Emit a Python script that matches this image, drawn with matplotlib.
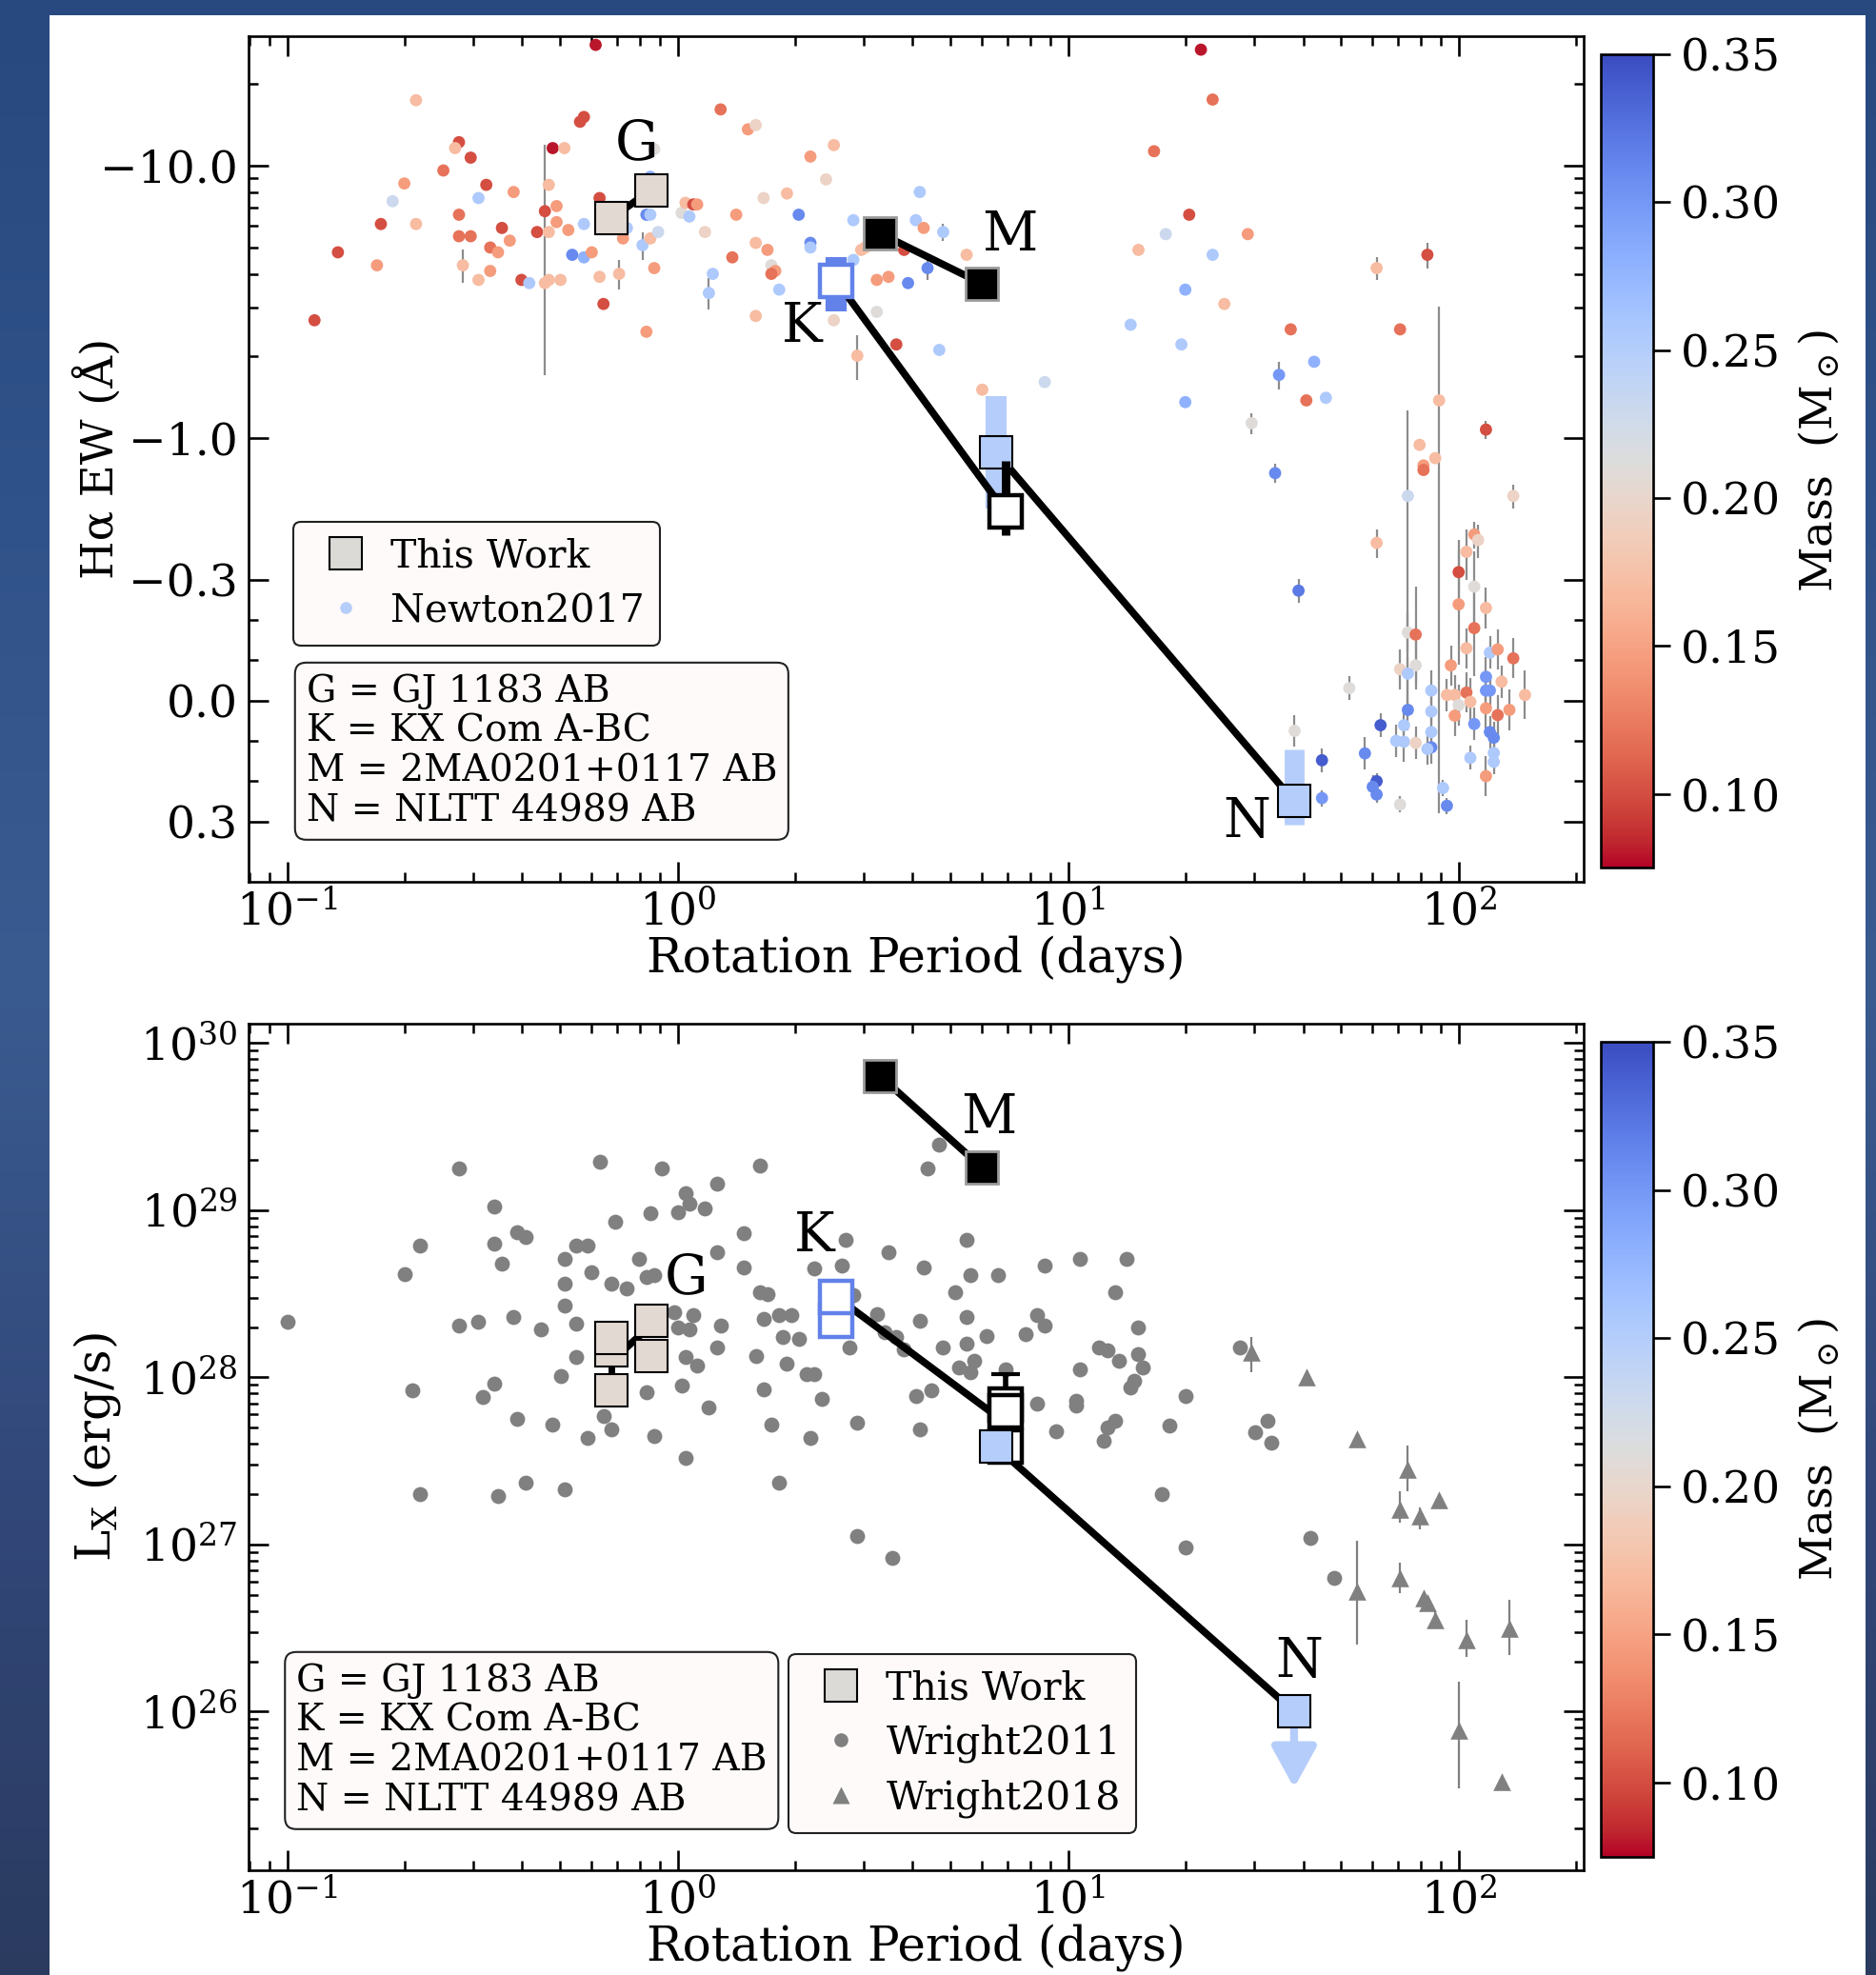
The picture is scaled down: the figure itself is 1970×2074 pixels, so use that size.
"""
Halpha EW and X-ray luminosity vs rotation period, coloured by mass
"""
import numpy as np
import matplotlib
matplotlib.use("Agg")
import matplotlib.pyplot as plt
from matplotlib.colors import Normalize, LinearSegmentedColormap
from matplotlib.lines import Line2D
from matplotlib.patches import Rectangle
from matplotlib.ticker import FixedLocator, FuncFormatter, LogLocator, NullFormatter
from matplotlib.cm import ScalarMappable

# ---------------------------------------------------------------- data
# Newton2017: (log10 period [d], Halpha EW [A], mass [Msun], EW error [A])
newton2017 = [
    (-0.21, -27.8, 0.08, 0), (-0.67, -17.4, 0.17, 0), (-0.24, -15.1, 0.10, 0),
    (-0.25, -14.5, 0.10, 0), (0.11, -16.1, 0.12, 0), (0.18, -13.6, 0.145, 0),
    (0.20, -14.1, 0.195, 0), (-0.56, -12.2, 0.10, 0), (-0.57, -11.6, 0.17, 0),
    (-0.53, -10.7, 0.10, 0), (-0.60, -9.6, 0.12, 0), (-0.70, -8.6, 0.145, 0),
    (-0.49, -8.5, 0.10, 0), (-0.42, -8.0, 0.145, 0), (-0.51, -7.6, 0.255, 0),
    (-0.73, -7.4, 0.23, 0), (-0.32, -11.6, 0.08, 0), (-0.29, -11.6, 0.17, 0),
    (-0.33, -8.5, 0.17, 0), (-0.34, -6.8, 0.10, 5.1), (-0.31, -7.1, 0.145, 0),
    (-0.76, -6.1, 0.10, 0), (-0.67, -6.1, 0.17, 0), (-0.56, -6.6, 0.12, 0),
    (-0.56, -5.5, 0.12, 0), (-0.53, -5.5, 0.12, 0), (-0.45, -5.9, 0.10, 0),
    (-0.48, -5.0, 0.12, 0), (-0.46, -4.8, 0.145, 0), (-0.43, -5.3, 0.145, 0),
    (-0.36, -5.7, 0.10, 0), (-0.31, -6.2, 0.145, 0), (-0.28, -5.8, 0.145, 0),
    (-0.33, -5.7, 0.17, 0), (-0.24, -6.1, 0.255, 0), (-0.87, -4.8, 0.10, 0),
    (-0.77, -4.3, 0.145, 0), (-0.55, -4.3, 0.17, 0.6), (-0.51, -3.8, 0.17, 0),
    (-0.48, -4.1, 0.145, 0), (-0.40, -3.8, 0.10, 0), (-0.38, -3.7, 0.255, 0),
    (-0.34, -3.7, 0.17, 0), (-0.33, -3.8, 0.17, 0), (-0.30, -3.8, 0.17, 0),
    (-0.27, -4.7, 0.31, 0), (-0.24, -4.6, 0.28, 0), (-0.22, -4.8, 0.145, 0),
    (-0.20, -7.6, 0.10, 0), (-0.20, -3.9, 0.17, 0), (-0.19, -3.1, 0.10, 0),
    (-0.15, -4.0, 0.17, 0.5), (-0.14, -5.4, 0.145, 0), (-0.13, -5.9, 0.255, 0),
    (-0.08, -6.6, 0.31, 0), (-0.07, -6.6, 0.255, 0), (-0.07, -9.1, 0.28, 0),
    (-0.09, -5.1, 0.255, 0.6), (-0.07, -5.4, 0.17, 0), (-0.05, -5.7, 0.23, 0),
    (-0.06, -4.2, 0.145, 0), (-0.08, -2.45, 0.145, 0), (-0.06, -11.5, 0.21, 0),
    (0.01, -6.7, 0.21, 0), (0.02, -7.3, 0.17, 0), (0.04, -7.2, 0.10, 0),
    (0.05, -7.2, 0.145, 0), (0.03, -6.5, 0.255, 0), (0.07, -5.7, 0.195, 0),
    (0.09, -4.0, 0.255, 0), (0.08, -3.4, 0.255, 0.45), (0.15, -6.6, 0.145, 0),
    (0.14, -4.6, 0.12, 0), (0.20, -5.2, 0.17, 0), (0.23, -4.9, 0.145, 0),
    (0.22, -7.6, 0.195, 0), (0.24, -4.3, 0.21, 0), (0.25, -4.1, 0.145, 0),
    (0.24, -4.0, 0.12, 0), (0.26, -3.5, 0.255, 0), (0.20, -2.8, 0.17, 0),
    (0.28, -7.9, 0.17, 0), (0.34, -10.8, 0.145, 0), (0.40, -11.9, 0.17, 0),
    (0.38, -8.9, 0.195, 0), (0.31, -6.6, 0.31, 0), (0.34, -5.2, 0.31, 0),
    (0.34, -5.0, 0.255, 0), (0.40, -2.7, 0.195, 0), (0.46, -2.0, 0.17, 0.37),
    (0.51, -3.8, 0.145, 0), (0.54, -3.9, 0.145, 0), (0.56, -2.2, 0.10, 0),
    (0.45, -6.3, 0.255, 0), (0.59, -3.7, 0.31, 0), (0.62, -8.0, 0.255, 0),
    (0.61, -6.3, 0.255, 0), (0.64, -4.2, 0.31, 0.4), (0.51, -2.9, 0.21, 0),
    (0.47, -4.9, 0.17, 0), (0.67, -2.1, 0.255, 0), (-0.93, -2.7, 0.10, 0),
    (0.63, -5.9, 0.145, 0), (0.48, -5.0, 0.17, 0), (0.58, -4.9, 0.10, 0),
    (0.45, -4.5, 0.255, 0),
    (1.34, -26.7, 0.08, 0), (1.37, -17.5, 0.12, 0), (1.22, -11.3, 0.12, 0),
    (1.31, -6.6, 0.10, 0), (1.25, -5.6, 0.23, 0), (1.46, -5.6, 0.145, 0),
    (1.18, -4.9, 0.17, 0), (1.37, -4.7, 0.255, 0), (0.74, -4.7, 0.17, 0),
    (0.68, -5.7, 0.255, 0.4), (1.30, -3.5, 0.28, 0), (1.40, -3.1, 0.17, 0),
    (1.16, -2.6, 0.255, 0), (1.29, -2.2, 0.255, 0), (1.57, -2.5, 0.12, 0),
    (1.63, -1.9, 0.28, 0), (1.54, -1.7, 0.30, 0.2), (1.66, -1.4, 0.255, 0),
    (1.61, -1.37, 0.12, 0), (1.30, -1.35, 0.28, 0), (0.94, -1.6, 0.23, 0),
    (0.78, -1.5, 0.17, 0), (1.47, -1.13, 0.21, 0.1), (1.53, -0.74, 0.31, 0.06),
    (1.59, -0.273, 0.32, 0.03), (1.58, 0.075, 0.21, 0.04), (1.65, 0.148, 0.34, 0.03),
    (1.65, 0.242, 0.30, 0.02), (1.79, -4.2, 0.17, 0.4), (1.92, -4.7, 0.10, 0.5),
    (1.85, -2.5, 0.12, 0), (1.95, -1.37, 0.17, 1.65), (2.07, -1.07, 0.10, 0.08),
    (2.14, -0.61, 0.195, 0.06), (1.90, -0.94, 0.17, 0), (1.91, -0.79, 0.145, 0),
    (1.91, -0.76, 0.12, 0), (1.94, -0.84, 0.17, 0), (1.87, -0.61, 0.23, 0.65),
    (1.79, -0.41, 0.17, 0.05), (2.00, -0.32, 0.10, 0.1), (2.04, -0.283, 0.21, 0.1),
    (2.00, -0.239, 0.145, 0.15), (2.04, -0.18, 0.12, 0.12), (2.07, -0.23, 0.17, 0.05),
    (2.02, -0.38, 0.17, 0.08), (2.04, -0.44, 0.145, 0.05), (2.05, -0.42, 0.195, 0.06),
    (1.87, -0.169, 0.21, 0.05), (1.89, -0.164, 0.12, 0.12), (1.89, -0.0875, 0.21, 0.06),
    (1.85, -0.078, 0.195, 0.05), (1.87, -0.067, 0.255, 0.04), (1.98, -0.0875, 0.145, 0.05),
    (2.02, -0.13, 0.17, 0.05), (2.08, -0.119, 0.255, 0.04), (2.10, -0.127, 0.145, 0.05),
    (2.14, -0.105, 0.12, 0.05), (1.72, -0.031, 0.21, 0.03), (2.07, -0.059, 0.30, 0.05),
    (2.11, -0.047, 0.17, 0.04), (1.93, -0.025, 0.255, 0.05), (1.97, -0.014, 0.17, 0.04),
    (1.99, -0.014, 0.17, 0.05), (2.02, -0.020, 0.12, 0.05), (2.03, 0.003, 0.17, 0.06),
    (2.00, 0.011, 0.21, 0.05), (2.07, -0.025, 0.30, 0.05), (2.08, -0.025, 0.30, 0.04),
    (2.17, -0.014, 0.17, 0.06), (1.87, 0.023, 0.31, 0.05), (1.93, 0.027, 0.255, 0.05),
    (1.99, 0.0375, 0.145, 0.05), (2.04, 0.058, 0.30, 0.04), (2.07, 0.019, 0.145, 0.05),
    (2.10, 0.036, 0.12, 0.05), (2.13, 0.023, 0.145, 0.05), (1.80, 0.061, 0.34, 0.03),
    (1.86, 0.061, 0.255, 0.04), (1.93, 0.078, 0.255, 0.04), (1.84, 0.10, 0.255, 0.04),
    (1.86, 0.102, 0.255, 0.05), (1.89, 0.105, 0.195, 0.04), (1.93, 0.116, 0.31, 0.04),
    (1.92, 0.12, 0.255, 0.04), (2.08, 0.078, 0.31, 0.04), (2.09, 0.092, 0.31, 0.04),
    (1.76, 0.131, 0.31, 0.04), (2.03, 0.142, 0.255, 0.03), (2.09, 0.13, 0.255, 0.04),
    (2.09, 0.152, 0.255, 0.03), (1.79, 0.20, 0.34, 0.02), (1.78, 0.214, 0.31, 0.03),
    (1.79, 0.233, 0.31, 0.02), (1.96, 0.217, 0.255, 0.02), (1.97, 0.261, 0.31, 0.02),
    (1.85, 0.258, 0.21, 0.02), (2.07, 0.1875, 0.145, 0.05),
]

# Wright2011: (log10 period [d], log10 Lx [erg/s])
wright2011 = [
    (-1.00, 28.33), (-0.70, 28.62), (-0.66, 28.79), (-0.68, 27.92), (-0.66, 27.30),
    (-0.56, 29.25), (-0.56, 28.31), (-0.51, 28.33), (-0.47, 29.02), (-0.47, 28.80),
    (-0.45, 28.68), (-0.41, 28.87), (-0.39, 28.84), (-0.42, 28.36), (-0.47, 27.96),
    (-0.50, 27.88), (-0.41, 27.75), (-0.39, 27.37), (-0.46, 27.29), (-0.35, 28.29),
    (-0.32, 27.72), (-0.29, 27.33), (-0.30, 28.01), (-0.29, 28.71), (-0.29, 28.56),
    (-0.29, 28.43), (-0.26, 28.79), (-0.23, 28.79), (-0.22, 28.63), (-0.26, 28.32),
    (-0.26, 28.12), (-0.23, 27.64), (-0.20, 29.29), (-0.16, 28.93), (-0.17, 28.56),
    (-0.13, 28.53), (-0.10, 28.71), (-0.08, 28.60), (-0.06, 28.61), (-0.07, 28.98),
    (-0.04, 29.25), (-0.08, 27.91), (-0.06, 27.65), (-0.19, 27.77), (-0.17, 27.69),
    (0.02, 29.10), (0.03, 29.04), (0.00, 28.99), (0.07, 29.01), (0.10, 29.16),
    (0.10, 28.75), (-0.01, 28.39), (0.00, 28.30), (0.04, 28.37), (0.05, 28.07),
    (0.03, 28.29), (0.02, 28.12), (0.01, 27.95), (0.08, 27.82), (0.02, 27.52),
    (0.11, 28.31), (0.10, 28.18), (0.17, 28.86), (0.17, 28.66), (0.21, 29.27),
    (0.21, 28.51), (0.23, 28.50), (0.22, 28.35), (0.20, 28.13), (0.22, 27.93),
    (0.24, 27.72), (0.26, 27.37), (0.28, 28.08), (0.26, 28.37), (0.29, 28.37),
    (0.27, 28.24), (0.31, 28.23), (0.33, 28.02), (0.35, 28.02), (0.37, 27.87),
    (0.34, 27.64), (0.35, 28.65), (0.38, 28.30), (0.42, 28.67), (0.43, 28.82),
    (0.44, 28.18), (0.45, 28.49), (0.46, 27.73), (0.51, 28.38), (0.54, 28.75),
    (0.53, 28.27), (0.56, 28.24), (0.58, 28.17), (0.61, 27.89), (0.62, 27.69),
    (0.62, 28.34), (0.63, 28.66), (0.65, 27.92), (0.64, 29.25), (0.67, 29.39),
    (0.46, 27.05), (0.55, 26.92),
    (0.74, 28.82), (0.75, 28.61), (0.82, 28.61), (0.71, 28.51), (0.74, 28.36),
    (0.74, 28.20), (0.79, 28.25), (0.68, 28.18), (0.72, 28.06), (0.76, 28.10),
    (0.75, 28.03), (0.84, 28.05), (0.94, 28.67), (1.03, 28.71), (1.15, 28.71),
    (1.12, 28.51), (1.18, 28.30), (0.92, 28.37), (0.94, 28.31), (0.89, 28.26),
    (1.08, 28.18), (1.10, 28.16), (1.13, 28.10), (1.18, 28.14), (1.19, 28.06),
    (1.03, 28.05), (1.17, 27.98), (1.16, 27.94), (0.92, 27.84), (1.02, 27.86),
    (1.02, 27.83), (0.97, 27.68), (1.10, 27.70), (1.12, 27.74), (1.09, 27.62),
    (1.26, 27.71), (1.30, 27.89), (1.24, 27.30), (1.30, 26.98), (1.44, 28.18),
    (1.51, 27.74), (1.48, 27.67), (1.52, 27.61), (1.62, 27.04), (1.68, 26.80),
]

# Wright2018: (log10 period, log10 Lx, lower bound, upper bound)
wright2018 = [
    (1.47, 28.15, 28.03, 28.24), (1.61, 28.00, 27.97, 28.03), (1.74, 27.63, 27.60, 27.66),
    (1.87, 27.45, 27.32, 27.59), (1.85, 27.21, 27.13, 27.32), (1.90, 27.17, 27.09, 27.22),
    (1.95, 27.27, 27.27, 27.27), (1.85, 26.80, 26.71, 26.89), (1.74, 26.72, 26.40, 27.02),
    (1.91, 26.68, 26.68, 26.68), (1.92, 26.65, 26.62, 26.68), (1.94, 26.55, 26.50, 26.60),
    (2.02, 26.43, 26.33, 26.55), (2.13, 26.50, 26.34, 26.67), (2.00, 25.89, 25.54, 26.18),
    (2.11, 25.58, 25.58, 25.58),
]

# This Work: periods (days)
g_period = [0.676, 0.854]
k_period = 2.55
bc_period = 6.9
na_period = 6.53
nb_period = 37.9
m_period = [3.30, 6.0]
# masses used for the marker colours
g_mass, k_mass, n_mass = 0.205, 0.315, 0.25

# This Work: Halpha EW (A)
g_ew = [-6.40, -8.13]
k_ew, k_ew_err = -3.77, 0.85
bc_ew, bc_ew_err = -0.534, (0.286, 0.097)
na_ew, na_ew_err = -0.884, (0.536, 0.336)
nb_ew, nb_ew_err = 0.25, (0.129, 0.058)
m_ew = [-5.63, -3.69]

# This Work: Lx (erg/s)
g_lx_a = [1.45e28, 1.73e28, 8.4e27]
g_lx_b = [1.34e28, 2.19e28]
g_lx_link = [1.25e28, 2.04e28]
k_lx = [2.19e28, 3.03e28]
bc_lx = [3.86e27, 6.87e27, 6.27e27]
bc_lx_cap = 1.04e28
bc_lx_link = 5.36e27
na_lx = 3.85e27
nb_lx, nb_lx_limit = 1.0e26, 3.5e25
m_lx = [6.35e29, 1.81e29]

key_text = ("G = GJ 1183 AB\nK = KX Com A-BC\n"
            "M = 2MA0201+0117 AB\nN = NLTT 44989 AB")

# ---------------------------------------------------------------- style
plt.rcParams.update({
    "font.family": ["DejaVu Serif"],
    "mathtext.fontset": "dejavuserif",
    "axes.linewidth": 1.9,
    "xtick.direction": "in", "ytick.direction": "in",
    "xtick.top": True, "ytick.right": True,
    "xtick.major.size": 15, "ytick.major.size": 15,
    "xtick.minor.size": 7.5, "ytick.minor.size": 7.5,
    "xtick.major.width": 1.9, "ytick.major.width": 1.9,
    "xtick.minor.width": 1.8, "ytick.minor.width": 1.8,
    "xtick.labelsize": 34, "ytick.labelsize": 34,
    "xtick.major.pad": 7, "ytick.major.pad": 8,
})

cmap = plt.get_cmap("coolwarm_r")
norm = Normalize(vmin=0.075, vmax=0.35)
box_face = "#fdfaf9"
gray = "#808080"

W, H = 1970, 2074


def fbox(x0, y0, x1, y1):
    # pixel box (origin top-left) -> figure fraction rectangle
    return [x0 / W, 1 - y1 / H, (x1 - x0) / W, (y1 - y0) / H]


fig = plt.figure(figsize=(W / 100, H / 100), dpi=100)

# slide background behind the white figure area
bg = fig.add_axes([0, 0, 1, 1], zorder=-10)
slide = LinearSegmentedColormap.from_list(
    "slide", ["#2b3b60", "#32487a", "#3a5b90", "#30528a", "#27497f"])
bg.imshow(np.linspace(0, 1, 256).reshape(-1, 1), cmap=slide, aspect="auto",
          extent=[0, 1, 0, 1], origin="lower")
bg.set_axis_off()
fig.add_artist(Rectangle((52 / W, 0), (1959 - 52) / W, (H - 16) / H,
                         transform=fig.transFigure, facecolor="white",
                         edgecolor="none", zorder=-5))

ax1 = fig.add_axes(fbox(260.7, 37.7, 1663, 926))
ax2 = fig.add_axes(fbox(260.7, 1075.4, 1663, 1964.3))
cax1 = fig.add_axes(fbox(1681, 56.9, 1736, 911.4))
cax2 = fig.add_axes(fbox(1681, 1094, 1736, 1949.7))

g_col = cmap(norm(g_mass))
k_col = cmap(norm(k_mass))
n_col = cmap(norm(n_mass))
link = dict(color="black", lw=5.5, zorder=5, solid_capstyle="butt")
sq = dict(marker="s", ms=24, ls="none")

# ---------------------------------------------------------------- top panel
n_p = 10 ** np.array([r[0] for r in newton2017])
n_ew = np.array([r[1] for r in newton2017])
n_mass = np.array([r[2] for r in newton2017])
n_err = np.array([r[3] for r in newton2017])
has = n_err > 0
ax1.errorbar(n_p[has], n_ew[has], yerr=n_err[has], fmt="none",
             ecolor="#8c8c8c", elinewidth=1.6, zorder=2)
ax1.scatter(n_p, n_ew, c=n_mass, cmap=cmap, norm=norm, s=85,
            linewidths=0, zorder=3)

ax1.plot(g_period, g_ew, **link)
ax1.plot(m_period, m_ew, **link)
ax1.plot([k_period, bc_period], [k_ew, bc_ew], **link)
ax1.plot([na_period, nb_period], [na_ew, nb_ew], **link)

ax1.errorbar(k_period, k_ew, yerr=k_ew_err, fmt="none", ecolor=k_col,
             elinewidth=16, zorder=4)
ax1.errorbar(na_period, na_ew, yerr=[[na_ew_err[0]], [na_ew_err[1]]], fmt="none",
             ecolor=n_col, elinewidth=16, zorder=4)
ax1.errorbar(nb_period, nb_ew, yerr=[[nb_ew_err[0]], [nb_ew_err[1]]], fmt="none",
             ecolor=n_col, elinewidth=15, zorder=4)
ax1.plot(g_period, g_ew, mfc=g_col, mec="black", mew=1.5, zorder=6, **sq)
ax1.plot(m_period, m_ew, mfc="black", mec="#9a9a9a", mew=2, zorder=6, **sq)
ax1.plot(k_period, k_ew, mfc="white", mec=k_col, mew=3.2, zorder=6, **sq)
ax1.plot(na_period, na_ew, mfc=n_col, mec="black", mew=1.5, zorder=6, **sq)
ax1.plot(nb_period, nb_ew, mfc=n_col, mec="black", mew=1.5, zorder=6, **sq)
ax1.errorbar(bc_period, bc_ew, yerr=[[bc_ew_err[0]], [bc_ew_err[1]]], fmt="none",
             ecolor="black", elinewidth=6.5, zorder=6.5)
ax1.plot(bc_period, bc_ew, mfc="white", mec="black", mew=3.2, zorder=7, **sq)

lab = dict(fontsize=41, ha="center", va="center", zorder=8)
ax1.text(0.787, -12.0, "G", **lab)
ax1.text(2.08, -2.56, "K", **lab)
ax1.text(7.1, -5.55, "M", **lab)
ax1.text(28.6, 0.30, "N", **lab)

ax1.set_xscale("log")
ax1.set_yscale("symlog", linthresh=0.3, linscale=0.4)
ax1.set_xlim(0.0795, 209)
ax1.set_ylim(0.5, -30)
ax1.yaxis.set_major_locator(FixedLocator([-10, -1, -0.3, 0, 0.3]))
ax1.yaxis.set_minor_locator(FixedLocator(
    [-20, -9, -8, -7, -6, -5, -4, -3, -2, -0.2, -0.1, 0.1, 0.2]))
ax1.yaxis.set_major_formatter(
    FuncFormatter(lambda v, pos: f"{v:.1f}".replace("-", "\u2212")))
ax1.set_ylabel("H\u03b1 EW (\u00c5)", fontsize=33.5)
ax1.yaxis.set_label_coords(-0.094, 0.5)

leg1 = ax1.legend(
    handles=[Line2D([], [], marker="s", ms=24, ls="none", mfc="#dcdad7",
                    mec="black", mew=1.5, label="This Work"),
             Line2D([], [], marker="o", ms=9, ls="none", mfc=n_col,
                    mec="none", label="Newton2017")],
    loc="lower left", bbox_to_anchor=(0.0336, 0.279), borderaxespad=0,
    fontsize=29.5, handlelength=1.9, handletextpad=0.2, labelspacing=0.42,
    borderpad=0.4, fancybox=True, framealpha=1, facecolor=box_face,
    edgecolor="#222222")
leg1.get_frame().set_linewidth(1.5)

ax1.text(0.0434, 0.063, key_text, transform=ax1.transAxes, fontsize=28.3,
         linespacing=1.16, ha="left", va="bottom", zorder=9,
         bbox=dict(boxstyle="round,pad=0.3", fc=box_face, ec="#222222", lw=1.5))

# ---------------------------------------------------------------- bottom panel
w11_p = 10 ** np.array([r[0] for r in wright2011])
w11_lx = 10 ** np.array([r[1] for r in wright2011])
ax2.scatter(w11_p, w11_lx, s=130, color=gray, linewidths=0, zorder=2)

w18_p = 10 ** np.array([r[0] for r in wright2018])
w18_lx = 10 ** np.array([r[1] for r in wright2018])
w18_lo = w18_lx - 10 ** np.array([r[2] for r in wright2018])
w18_hi = 10 ** np.array([r[3] for r in wright2018]) - w18_lx
ax2.errorbar(w18_p, w18_lx, yerr=[w18_lo, w18_hi], fmt="none", ecolor=gray,
             elinewidth=1.6, zorder=2)
ax2.scatter(w18_p, w18_lx, s=180, marker="^", color=gray, linewidths=0, zorder=2)

ax2.plot([g_period[0]] * 2, [g_lx_a[0], g_lx_a[2]], color="black", lw=5, zorder=4)
ax2.plot(g_period, g_lx_link, **link)
ax2.plot(m_period, m_lx, **link)
ax2.plot([k_period, bc_period], [k_lx[1], bc_lx_link], **link)
ax2.plot([na_period, nb_period], [na_lx, nb_lx], **link)

ax2.annotate("", xy=(nb_period, nb_lx_limit), xytext=(nb_period, nb_lx),
             arrowprops=dict(arrowstyle="-|>,head_length=0.4,head_width=0.22",
                             color=n_col, lw=6, mutation_scale=65,
                             shrinkA=0, shrinkB=0), zorder=4)

ax2.plot([g_period[0]] * 3, g_lx_a, mfc=g_col, mec="black", mew=1.5, zorder=6, **sq)
ax2.plot([g_period[1]] * 2, g_lx_b, mfc=g_col, mec="black", mew=1.5, zorder=6, **sq)
ax2.plot([k_period] * 2, k_lx, mfc="white", mec=k_col, mew=3.2, zorder=6, **sq)
ax2.plot(m_period, m_lx, mfc="black", mec="#9a9a9a", mew=2, zorder=6, **sq)
ax2.errorbar(bc_period, bc_lx[1], yerr=[[0], [bc_lx_cap - bc_lx[1]]], fmt="none",
             ecolor="black", elinewidth=4, capsize=11, capthick=3, zorder=5)
ax2.plot([bc_period] * 3, bc_lx, mfc="white", mec="black", mew=3.2, zorder=6, **sq)
ax2.plot(na_period, na_lx, mfc=n_col, mec="black", mew=1.5, zorder=7, **sq)
ax2.plot(nb_period, nb_lx, mfc=n_col, mec="black", mew=1.5, zorder=7, **sq)

ax2.text(1.05, 3.9e28, "G", **lab)
ax2.text(2.24, 7.0e28, "K", **lab)
ax2.text(6.27, 3.56e29, "M", **lab)
ax2.text(39.0, 2.0e26, "N", **lab)

ax2.set_xscale("log")
ax2.set_yscale("log")
ax2.set_xlim(0.0795, 209)
ax2.set_ylim(1.12e25, 1.3e30)
ax2.yaxis.set_major_locator(LogLocator(base=10))
ax2.yaxis.set_minor_locator(LogLocator(base=10, subs=np.arange(2, 10)))
ax2.yaxis.set_minor_formatter(NullFormatter())
ax2.set_ylabel(r"L$_{\mathrm{X}}$ (erg/s)", fontsize=36)
ax2.yaxis.set_label_coords(-0.094, 0.5)

leg2 = ax2.legend(
    handles=[Line2D([], [], marker="s", ms=24, ls="none", mfc="#dcdad7",
                    mec="black", mew=1.5, label="This Work"),
             Line2D([], [], marker="o", ms=10.5, ls="none", mfc=gray,
                    mec="none", label="Wright2011"),
             Line2D([], [], marker="^", ms=12.5, ls="none", mfc=gray,
                    mec="none", label="Wright2018")],
    loc="lower left", bbox_to_anchor=(0.4045, 0.044), borderaxespad=0,
    fontsize=29.5, handlelength=1.9, handletextpad=0.2, labelspacing=0.42,
    borderpad=0.4, fancybox=True, framealpha=1, facecolor=box_face,
    edgecolor="#222222")
leg2.get_frame().set_linewidth(1.5)

ax2.text(0.0359, 0.0622, key_text, transform=ax2.transAxes, fontsize=28.3,
         linespacing=1.16, ha="left", va="bottom", zorder=9,
         bbox=dict(boxstyle="round,pad=0.3", fc=box_face, ec="#222222", lw=1.5))

for ax in (ax1, ax2):
    ax.xaxis.set_major_locator(LogLocator(base=10))
    ax.xaxis.set_minor_locator(LogLocator(base=10, subs=np.arange(2, 10)))
    ax.xaxis.set_minor_formatter(NullFormatter())
    ax.set_xlabel("Rotation Period (days)", fontsize=36, labelpad=0)
    ax.tick_params(which="both", top=True, right=True)

# ---------------------------------------------------------------- colour bars
for cax in (cax1, cax2):
    cb = fig.colorbar(ScalarMappable(norm=norm, cmap=cmap), cax=cax)
    cb.set_ticks([0.10, 0.15, 0.20, 0.25, 0.30, 0.35])
    cb.ax.yaxis.set_major_formatter(FuncFormatter(lambda v, pos: f"{v:.2f}"))
    cb.ax.tick_params(direction="out", length=13, width=1.9, labelsize=34,
                      pad=8, right=True, left=False)
    cb.ax.minorticks_off()
    cb.outline.set_linewidth(1.9)
    cb.set_label(r"Mass  (M$_\odot$)", fontsize=33.5, labelpad=12)

fig.savefig("out.png", dpi=100)
